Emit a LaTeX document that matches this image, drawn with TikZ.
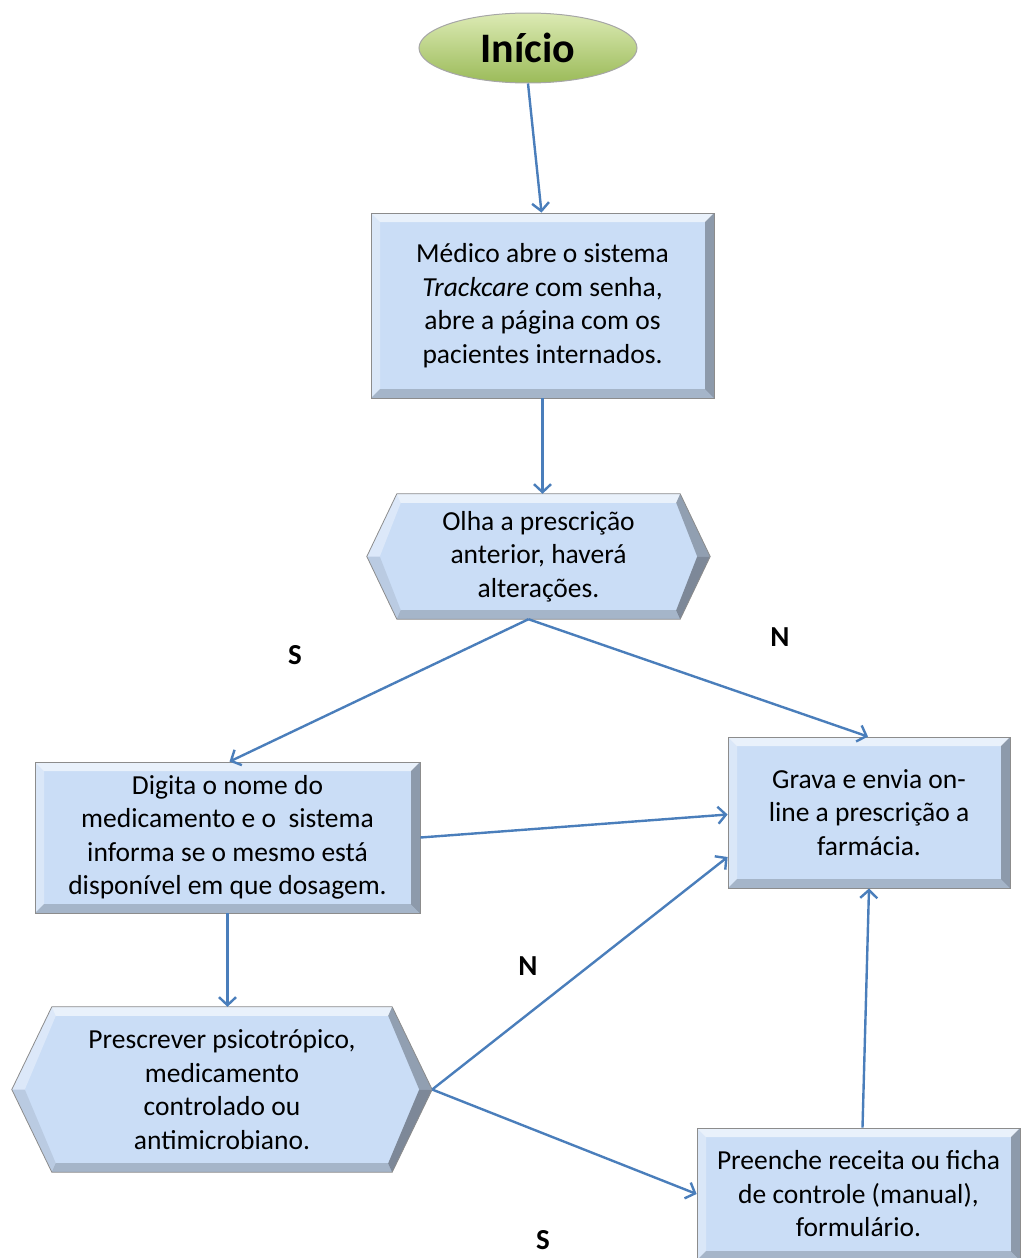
\documentclass[tikz,border=0pt]{standalone}
\usepackage{fontspec}
\setmainfont{Carlito}
\usetikzlibrary{arrows.meta,backgrounds,shapes.geometric}
\definecolor{boxfill}{HTML}{CADDF6}
\definecolor{lineblue}{HTML}{4A7EBB}
\definecolor{greenA}{HTML}{DCEAB4}
\definecolor{greenB}{HTML}{9BBB59}
\tikzset{
  txt/.style={font=\fontsize{27.5}{33.5}\selectfont, align=center, inner sep=0pt},
  bevelbox/.style={txt, rectangle, fill=boxfill, draw=black!45, line width=0.8pt,
    path picture={
      \fill[white,opacity=0.6] (path picture bounding box.north west) -- (path picture bounding box.north east)
        -- ([xshift=-9pt,yshift=-9pt]path picture bounding box.north east) -- ([xshift=9pt,yshift=-9pt]path picture bounding box.north west) -- cycle;
      \fill[white,opacity=0.3] (path picture bounding box.north west) -- ([xshift=9pt,yshift=-9pt]path picture bounding box.north west)
        -- ([xshift=9pt,yshift=9pt]path picture bounding box.south west) -- (path picture bounding box.south west) -- cycle;
      \fill[black,opacity=0.3] (path picture bounding box.north east) -- ([xshift=-9pt,yshift=-9pt]path picture bounding box.north east)
        -- ([xshift=-9pt,yshift=9pt]path picture bounding box.south east) -- (path picture bounding box.south east) -- cycle;
      \fill[black,opacity=0.18] (path picture bounding box.south west) -- ([xshift=9pt,yshift=9pt]path picture bounding box.south west)
        -- ([xshift=-9pt,yshift=9pt]path picture bounding box.south east) -- (path picture bounding box.south east) -- cycle;
    }},
  hextext/.style={txt, rectangle, draw=none},
  lab/.style={font=\fontsize{29}{32}\selectfont\bfseries, inner sep=0pt},
  conn/.style={draw=lineblue, line width=2.4pt, -{Straight Barb[length=8pt,width=17pt,line width=2.4pt]}},
  startnode/.style={ellipse, top color=greenA, bottom color=greenB, draw=black!35, line width=1pt,
    font=\fontsize{42}{44}\selectfont\bfseries, inner sep=0pt}
}
\newcommand{\hexshape}[2]{%
  \begin{scope}[on background layer]
    \fill[boxfill] (#1.west) -- ([xshift=#2]#1.north west) -- ([xshift=-#2]#1.north east) -- (#1.east)
      -- ([xshift=-#2]#1.south east) -- ([xshift=#2]#1.south west) -- cycle;
    \fill[white,opacity=0.6] ([xshift=#2]#1.north west) -- ([xshift=-#2]#1.north east)
      -- ([xshift=-#2-4,yshift=-9]#1.north east) -- ([xshift=#2+4,yshift=-9]#1.north west) -- cycle;
    \fill[white,opacity=0.35] (#1.west) -- ([xshift=#2]#1.north west) -- ([xshift=#2+4,yshift=-9]#1.north west)
      -- ([xshift=13]#1.west) -- cycle;
    \fill[black,opacity=0.08] (#1.west) -- ([xshift=#2]#1.south west) -- ([xshift=#2+4,yshift=9]#1.south west)
      -- ([xshift=13]#1.west) -- cycle;
    \fill[black,opacity=0.28] (#1.east) -- ([xshift=-#2]#1.north east) -- ([xshift=-#2-4,yshift=-9]#1.north east)
      -- ([xshift=-13]#1.east) -- cycle;
    \fill[black,opacity=0.38] (#1.east) -- ([xshift=-#2]#1.south east) -- ([xshift=-#2-4,yshift=9]#1.south east)
      -- ([xshift=-13]#1.east) -- cycle;
    \fill[black,opacity=0.18] ([xshift=#2]#1.south west) -- ([xshift=-#2]#1.south east)
      -- ([xshift=-#2-4,yshift=9]#1.south east) -- ([xshift=#2+4,yshift=9]#1.south west) -- cycle;
    \draw[black!45, line width=0.8pt] (#1.west) -- ([xshift=#2]#1.north west) -- ([xshift=-#2]#1.north east) -- (#1.east)
      -- ([xshift=-#2]#1.south east) -- ([xshift=#2]#1.south west) -- cycle;
  \end{scope}}
\begin{document}
\begin{tikzpicture}[x=1pt,y=-1pt]
  \useasboundingbox (0,0) rectangle (1020,1258);

  \node[startnode, minimum width=218pt, minimum height=70pt] (start) at (528,48) {Início};

  \node[bevelbox, minimum width=343pt, minimum height=185pt] (b1) at (542.5,305.5)
    {Médico abre o sistema\\\textit{Trackcare} com senha,\\abre a página com os\\pacientes internados.};

  \node[hextext, minimum width=343pt, minimum height=125pt] (h1) at (538.5,556.5)
    {Olha a prescrição\\anterior, haverá\\alterações.};
  \hexshape{h1}{30}

  \node[bevelbox, minimum width=385pt, minimum height=151pt] (b2) at (227.5,837.5)
    {Digita o nome do\\medicamento e o\ \ sistema\\informa se o mesmo está\\disponível em que dosagem.};

  \node[bevelbox, minimum width=282pt, minimum height=151pt] (b3) at (869,812.5)
    {Grava e envia on-\\line a prescrição a\\farmácia.};

  \node[hextext, minimum width=420pt, minimum height=165pt] (h2) at (222,1089.5)
    {Prescrever psicotrópico,\\medicamento\\controlado ou\\antimicrobiano.};
  \hexshape{h2}{40}

  \node[bevelbox, minimum width=323pt, minimum height=132pt] (b4) at (858.5,1194)
    {Preenche receita ou ficha\\de controle (manual),\\formulário.};

  \node[lab] (s1) at (295,655) {S};
  \node[lab] (n1) at (780,637) {N};
  \node[lab] (n2) at (528,966) {N};
  \node[lab] (s2) at (543,1240) {S};

  \draw[conn] (start.south) -- ([xshift=-1]b1.north);
  \draw[conn] (b1.south) -- (b1.south |- h1.north);
  \draw[conn] ([xshift=-10]h1.south) -- ([xshift=2]b2.north);
  \draw[conn] ([xshift=-10]h1.south) -- ([xshift=-1]b3.north);
  \draw[conn] (b2.east) -- ([yshift=-2]b3.west);
  \draw[conn] (b2.south) -- (b2.south |- h2.north);
  \draw[conn] (h2.east) -- ([yshift=-44.5]b3.west);
  \draw[conn] (h2.east) -- (b4.west);
  \draw[conn] ([xshift=4]b4.north) -- (b3.south);
\end{tikzpicture}
\end{document}
